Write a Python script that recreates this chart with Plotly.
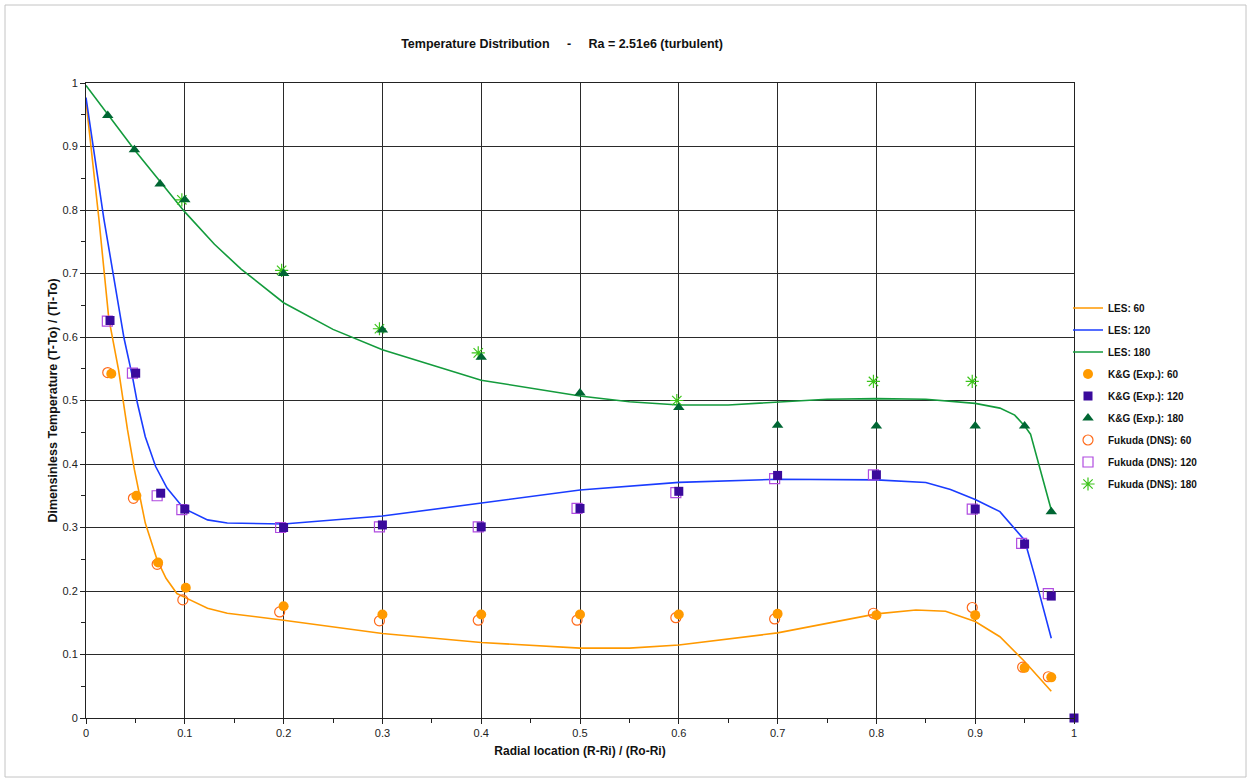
import plotly.graph_objects as go

# ---------------- data ----------------
les60_x = [0.0, 0.013, 0.023, 0.033, 0.042, 0.049, 0.060, 0.072, 0.081, 0.092, 0.100, 0.123, 0.143, 0.200,
           0.300, 0.400, 0.500, 0.550, 0.600, 0.700, 0.800, 0.840, 0.870, 0.900, 0.925, 0.950, 0.977]
les60_y = [0.971, 0.787, 0.630, 0.548, 0.454, 0.391, 0.307, 0.249, 0.220, 0.196, 0.190, 0.173, 0.165, 0.154,
           0.133, 0.119, 0.110, 0.110, 0.115, 0.134, 0.164, 0.170, 0.168, 0.152, 0.128, 0.089, 0.042]

les120_x = [0.0, 0.018, 0.0385, 0.047, 0.052, 0.060, 0.0705, 0.082, 0.099, 0.123, 0.143, 0.200, 0.300,
            0.400, 0.500, 0.600, 0.700, 0.800, 0.850, 0.875, 0.900, 0.925, 0.950, 0.960, 0.977]
les120_y = [0.977, 0.787, 0.598, 0.5375, 0.496, 0.443, 0.396, 0.362, 0.330, 0.312, 0.307, 0.3055, 0.318,
            0.338, 0.359, 0.371, 0.376, 0.375, 0.371, 0.360, 0.344, 0.325, 0.280, 0.225, 0.1255]

les180_x = [0.0, 0.050, 0.100, 0.130, 0.157, 0.200, 0.250, 0.300, 0.400, 0.500, 0.550, 0.600, 0.650, 0.700,
            0.750, 0.800, 0.850, 0.900, 0.925, 0.940, 0.950, 0.956, 0.977]
les180_y = [0.996, 0.893, 0.797, 0.746, 0.707, 0.654, 0.612, 0.580, 0.532, 0.507, 0.498, 0.493, 0.493, 0.498,
            0.502, 0.503, 0.502, 0.4955, 0.488, 0.477, 0.460, 0.447, 0.3275]

kg60_x = [0.0256, 0.051, 0.073, 0.101, 0.2, 0.3, 0.4, 0.5, 0.6, 0.7, 0.8, 0.9, 0.95, 0.977]
kg60_y = [0.542, 0.350, 0.245, 0.205, 0.176, 0.163, 0.163, 0.163, 0.163, 0.164, 0.162, 0.162, 0.079, 0.064]

kg120_x = [0.0243, 0.0503, 0.0756, 0.1, 0.2, 0.3, 0.4, 0.5, 0.6, 0.7, 0.8, 0.9, 0.95, 0.977, 1.0]
kg120_y = [0.626, 0.543, 0.354, 0.329, 0.300, 0.304, 0.301, 0.330, 0.357, 0.382, 0.383, 0.329, 0.274, 0.192, 0.0]

kg180_x = [0.022, 0.049, 0.075, 0.1, 0.2, 0.3, 0.4, 0.5, 0.6, 0.7, 0.8, 0.9, 0.95, 0.977]
kg180_y = [0.949, 0.895, 0.841, 0.816, 0.700, 0.611, 0.568, 0.512, 0.489, 0.461, 0.460, 0.460, 0.460, 0.325]

fk60_x = [0.022, 0.048, 0.072, 0.098, 0.196, 0.297, 0.397, 0.497, 0.597, 0.697, 0.797, 0.897, 0.948, 0.974]
fk60_y = [0.544, 0.346, 0.242, 0.186, 0.167, 0.153, 0.154, 0.154, 0.158, 0.156, 0.165, 0.174, 0.080, 0.065]

fk120_x = [0.0216, 0.047, 0.072, 0.097, 0.197, 0.297, 0.397, 0.497, 0.597, 0.697, 0.797, 0.897, 0.947, 0.974]
fk120_y = [0.625, 0.543, 0.350, 0.328, 0.300, 0.301, 0.301, 0.330, 0.355, 0.377, 0.383, 0.329, 0.275, 0.196]

fk180_x = [0.097, 0.198, 0.297, 0.397, 0.598, 0.797, 0.897]
fk180_y = [0.816, 0.705, 0.613, 0.575, 0.500, 0.530, 0.530]

x_ticks = [0, 0.1, 0.2, 0.3, 0.4, 0.5, 0.6, 0.7, 0.8, 0.9, 1]
tick_labels = ["0", "0.1", "0.2", "0.3", "0.4", "0.5", "0.6", "0.7", "0.8", "0.9", "1"]

# ---------------- figure ----------------
W, H = 1251, 782
L, R, T, B = 86, 1074, 83, 718

fig = go.Figure()

def line_trace(x, y, name, color, rank):
    return go.Scatter(x=x, y=y, mode="lines", name=name, legendrank=rank, legendgroup=name,
                      line=dict(color=color, width=1.6))

def mk_trace(x, y, name, symbol, color, size, rank, open_=False):
    if open_:
        marker = dict(symbol=symbol, size=size, color=color, line=dict(color=color, width=1.2))
    else:
        marker = dict(symbol=symbol, size=size, color=color, line=dict(width=0))
    return go.Scatter(x=x, y=y, mode="markers", name=name, legendrank=rank, legendgroup=name,
                      marker=marker, cliponaxis=False)

fig.add_trace(line_trace(les60_x, les60_y, "LES: 60", "#FF9900", 1))
fig.add_trace(line_trace(les120_x, les120_y, "LES: 120", "#1A3CFF", 2))
fig.add_trace(line_trace(les180_x, les180_y, "LES: 180", "#139B3C", 3))
fig.add_trace(mk_trace(fk60_x, fk60_y, "Fukuda (DNS): 60", "circle-open", "#FF6A1A", 10, 7, True))
fig.add_trace(mk_trace(fk120_x, fk120_y, "Fukuda (DNS): 120", "square-open", "#B04BE0", 10, 8, True))
fig.add_trace(mk_trace(fk180_x, fk180_y, "Fukuda (DNS): 180", "asterisk-open", "#3CC41A", 11, 9, True))
fig.add_trace(mk_trace(kg60_x, kg60_y, "K&G (Exp.): 60", "circle", "#FF9A00", 10, 4))
fig.add_trace(mk_trace(kg120_x, kg120_y, "K&G (Exp.): 120", "square", "#3A0A9C", 9, 5))
fig.add_trace(mk_trace(kg180_x, kg180_y, "K&G (Exp.): 180", "triangle-up", "#006633", 10, 6))

def px2paper_x(p):
    return (p - L) / (R - L)

def px2paper_y(p):
    return (B - p) / (B - T)

# outer frame
fig.add_shape(type="rect", xref="paper", yref="paper",
              x0=px2paper_x(5), x1=px2paper_x(1246), y0=px2paper_y(777), y1=px2paper_y(5),
              line=dict(color="#C4C4C4", width=1), fillcolor="rgba(0,0,0,0)", layer="below")

axis_font = dict(family="Liberation Sans Narrow, Liberation Sans, Arial", size=11, color="#222222")

fig.update_layout(
    width=W, height=H,
    margin=dict(l=L, r=W - R, t=T, b=H - B, pad=0),
    paper_bgcolor="white", plot_bgcolor="white",
    font=dict(family="Liberation Sans, Arial", color="#111111"),
    title=dict(text="<b>Temperature Distribution\u00a0\u00a0\u00a0\u00a0\u00a0-\u00a0\u00a0\u00a0\u00a0\u00a0Ra = 2.51e6 (turbulent)</b>",
               x=562 / W, xanchor="center", y=1 - 44 / H, yanchor="middle", yref="container",
               font=dict(size=12.5, color="#111111")),
    showlegend=True,
    legend=dict(x=px2paper_x(1068), xanchor="left", y=px2paper_y(396), yanchor="middle",
                font=dict(size=10, color="#111111", weight="bold"), itemwidth=30,
                traceorder="grouped", tracegroupgap=3,
                bgcolor="rgba(0,0,0,0)", borderwidth=0),
)

fig.update_xaxes(
    range=[0, 1], tickvals=x_ticks, ticktext=tick_labels,
    showgrid=True, gridcolor="#2A2A2A", gridwidth=1,
    zeroline=False, showline=True, linecolor="#222222", linewidth=1, mirror=True,
    ticks="outside", ticklen=5, tickcolor="#222222",
    minor=dict(dtick=0.05, ticks="outside", ticklen=4, tickcolor="#222222", showgrid=False),
    tickfont=axis_font,
    title=dict(text="<b>Radial location (R-Ri) / (Ro-Ri)</b>", font=dict(size=12, color="#111111"), standoff=8),
)
fig.update_yaxes(
    range=[0, 1], tickvals=x_ticks, ticktext=tick_labels,
    showgrid=True, gridcolor="#2A2A2A", gridwidth=1,
    zeroline=False, showline=True, linecolor="#222222", linewidth=1, mirror=True,
    ticks="outside", ticklen=5, tickcolor="#222222",
    minor=dict(dtick=0.05, ticks="outside", ticklen=4, tickcolor="#222222", showgrid=False),
    tickfont=axis_font,
    title=dict(text="<b>Dimensinless Temperature (T-To) / (Ti-To)</b>", font=dict(size=12.5, color="#111111"), standoff=2),
)

fig.write_html("out.html", config={"displayModeBar": False},
               post_script="document.body.style.margin='0';document.body.style.overflow='hidden';")
